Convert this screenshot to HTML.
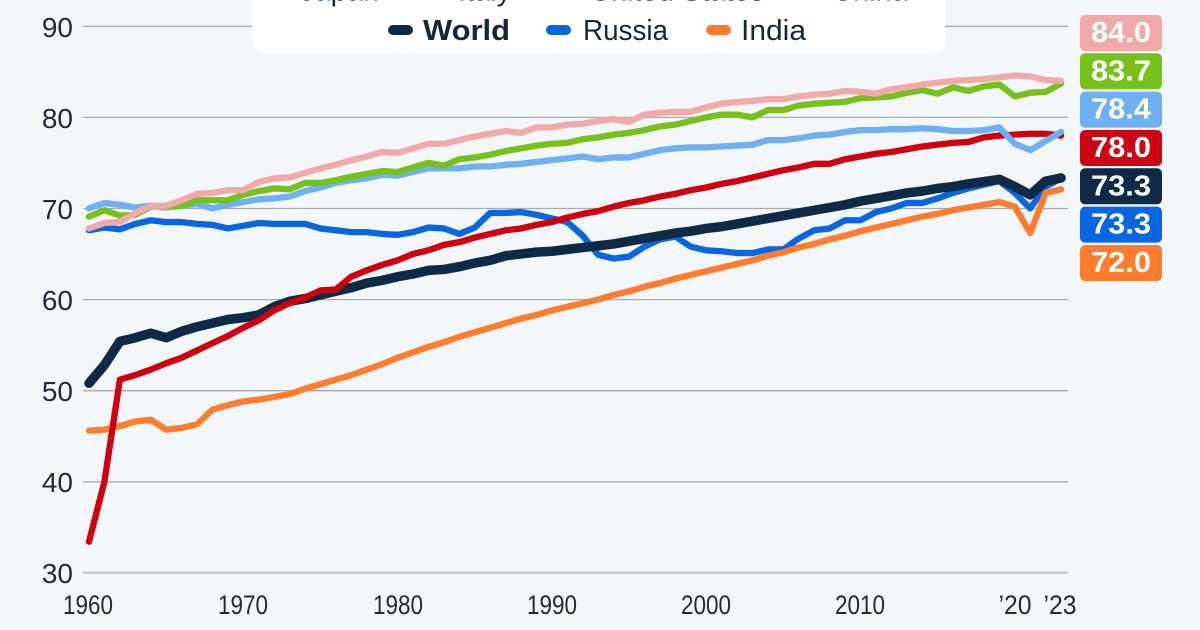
<!DOCTYPE html>
<html><head><meta charset="utf-8"><style>
html,body{margin:0;padding:0;background:#f4f7fa;}
svg{display:block;font-family:"Liberation Sans",sans-serif;}
</style></head><body>
<svg width="1200" height="630" viewBox="0 0 1200 630" xmlns="http://www.w3.org/2000/svg">
<rect x="0" y="0" width="1200" height="630" fill="#f4f7fa"/>
<g stroke="#a7acb2" stroke-width="1.3">
<line x1="83" y1="26.3" x2="1068" y2="26.3"/>
<line x1="83" y1="117.4" x2="1068" y2="117.4"/>
<line x1="83" y1="208.5" x2="1068" y2="208.5"/>
<line x1="83" y1="299.6" x2="1068" y2="299.6"/>
<line x1="83" y1="390.7" x2="1068" y2="390.7"/>
<line x1="83" y1="481.8" x2="1068" y2="481.8"/>
</g>
<line x1="83" y1="572.7" x2="1068" y2="572.7" stroke="#c9cdd2" stroke-width="2.6"/>
<g font-size="28" fill="#1d2b3a" text-anchor="end">
<text x="73" y="37">90</text>
<text x="73" y="128">80</text>
<text x="73" y="219">70</text>
<text x="73" y="310">60</text>
<text x="73" y="401">50</text>
<text x="73" y="492">40</text>
<text x="73" y="583">30</text>
</g>
<g font-size="27" fill="#1d2b3a" text-anchor="middle">
<text x="88" y="614" textLength="50" lengthAdjust="spacingAndGlyphs">1960</text>
<text x="243" y="614" textLength="50" lengthAdjust="spacingAndGlyphs">1970</text>
<text x="398" y="614" textLength="50" lengthAdjust="spacingAndGlyphs">1980</text>
<text x="552" y="614" textLength="50" lengthAdjust="spacingAndGlyphs">1990</text>
<text x="706" y="614" textLength="50" lengthAdjust="spacingAndGlyphs">2000</text>
<text x="860" y="614" textLength="50" lengthAdjust="spacingAndGlyphs">2010</text>
<text x="1015" y="614" textLength="33" lengthAdjust="spacingAndGlyphs">’20</text>
<text x="1060" y="614" textLength="33" lengthAdjust="spacingAndGlyphs">’23</text>
</g>
<g fill="none" stroke-linejoin="round" stroke-linecap="round" transform="matrix(15.43 0 0 -9.107 89 845.91)">
<polyline vector-effect="non-scaling-stroke" stroke="#0866e0" stroke-width="6.3" points="0,67.6 1,67.9 2,67.7 3,68.3 4,68.7 5,68.5 6,68.5 7,68.3 8,68.2 9,67.8 10,68.1 11,68.4 12,68.3 13,68.3 14,68.3 15,67.8 16,67.6 17,67.4 18,67.4 19,67.2 20,67.1 21,67.4 22,67.9 23,67.8 24,67.2 25,67.9 26,69.5 27,69.5 28,69.6 29,69.3 30,68.9 31,68.5 32,67.0 33,64.9 34,64.5 35,64.7 36,65.8 37,66.6 38,66.9 39,65.8 40,65.4 41,65.3 42,65.1 43,65.1 44,65.5 45,65.5 46,66.7 47,67.6 48,67.8 49,68.7 50,68.7 51,69.6 52,70.0 53,70.6 54,70.6 55,71.1 56,71.7 57,72.2 58,72.6 59,73.0 60,71.7 61,70.0 62,72.4 63,73.3"/>
<polyline vector-effect="non-scaling-stroke" stroke="#ff7b2d" stroke-width="6.3" points="0,45.6 1,45.7 2,46.1 3,46.6 4,46.8 5,45.7 6,45.9 7,46.3 8,47.9 9,48.4 10,48.8 11,49.0 12,49.3 13,49.6 14,50.2 15,50.7 16,51.2 17,51.7 18,52.3 19,52.9 20,53.6 21,54.2 22,54.8 23,55.3 24,55.9 25,56.4 26,56.9 27,57.4 28,57.9 29,58.3 30,58.8 31,59.2 32,59.6 33,60.0 34,60.5 35,60.9 36,61.4 37,61.8 38,62.3 39,62.7 40,63.1 41,63.5 42,63.9 43,64.3 44,64.8 45,65.2 46,65.7 47,66.1 48,66.6 49,67.0 50,67.5 51,67.9 52,68.3 53,68.7 54,69.1 55,69.4 56,69.8 57,70.1 58,70.4 59,70.7 60,70.2 61,67.3 62,71.7 63,72.1"/>
<polyline vector-effect="non-scaling-stroke" stroke="#0f2a47" stroke-width="9.5" points="0,50.8 1,52.8 2,55.4 3,55.8 4,56.3 5,55.8 6,56.5 7,57.0 8,57.4 9,57.8 10,58.0 11,58.3 12,59.2 13,59.8 14,60.1 15,60.5 16,60.9 17,61.3 18,61.8 19,62.1 20,62.5 21,62.8 22,63.2 23,63.3 24,63.6 25,64.0 26,64.3 27,64.8 28,65.0 29,65.2 30,65.3 31,65.5 32,65.7 33,65.9 34,66.1 35,66.4 36,66.7 37,67.0 38,67.3 39,67.5 40,67.8 41,68.0 42,68.3 43,68.6 44,68.9 45,69.2 46,69.5 47,69.8 48,70.1 49,70.4 50,70.8 51,71.1 52,71.4 53,71.7 54,71.9 55,72.2 56,72.4 57,72.7 58,72.95 59,73.2 60,72.4 61,71.5 62,73.0 63,73.35"/>
<polyline vector-effect="non-scaling-stroke" stroke="#d0000f" stroke-width="6.3" points="0,33.4 1,40.0 2,51.2 3,51.7 4,52.3 5,53.0 6,53.6 7,54.4 8,55.2 9,56.0 10,56.9 11,57.7 12,58.8 13,59.6 14,60.2 15,61.0 16,61.1 17,62.5 18,63.2 19,63.8 20,64.3 21,65.0 22,65.4 23,66.0 24,66.3 25,66.8 26,67.2 27,67.6 28,67.8 29,68.2 30,68.5 31,69.0 32,69.4 33,69.7 34,70.2 35,70.6 36,70.9 37,71.3 38,71.6 39,72.0 40,72.3 41,72.7 42,73.0 43,73.4 44,73.8 45,74.2 46,74.5 47,74.9 48,74.9 49,75.4 50,75.7 51,76.0 52,76.2 53,76.5 54,76.8 55,77.0 56,77.2 57,77.3 58,77.8 59,78.0 60,78.1 61,78.2 62,78.2 63,78.0"/>
<polyline vector-effect="non-scaling-stroke" stroke="#6eb0f2" stroke-width="6.3" points="0,70.0 1,70.6 2,70.4 3,70.1 4,70.3 5,70.1 6,70.3 7,70.5 8,70.0 9,70.4 10,70.7 11,71.0 12,71.1 13,71.3 14,71.9 15,72.3 16,72.8 17,73.1 18,73.3 19,73.7 20,73.6 21,74.0 22,74.4 23,74.4 24,74.4 25,74.6 26,74.6 27,74.8 28,74.9 29,75.1 30,75.3 31,75.5 32,75.7 33,75.4 34,75.6 35,75.6 36,76.0 37,76.4 38,76.6 39,76.7 40,76.7 41,76.8 42,76.9 43,77.0 44,77.5 45,77.5 46,77.7 47,78.0 48,78.1 49,78.4 50,78.6 51,78.6 52,78.7 53,78.7 54,78.8 55,78.7 56,78.5 57,78.5 58,78.6 59,78.9 60,77.1 61,76.4 62,77.4 63,78.4"/>
<polyline vector-effect="non-scaling-stroke" stroke="#78c01c" stroke-width="6.3" points="0,69.1 1,69.8 2,69.2 3,69.3 4,70.2 5,70.3 6,70.3 7,70.9 8,70.9 9,70.9 10,71.5 11,71.9 12,72.2 13,72.1 14,72.8 15,72.8 16,73.1 17,73.5 18,73.8 19,74.1 20,74.0 21,74.5 22,75.0 23,74.7 24,75.4 25,75.6 26,75.9 27,76.3 28,76.6 29,76.9 30,77.1 31,77.2 32,77.6 33,77.8 34,78.1 35,78.3 36,78.6 37,79.0 38,79.2 39,79.6 40,80.0 41,80.3 42,80.3 43,80.0 44,80.8 45,80.8 46,81.3 47,81.5 48,81.6 49,81.7 50,82.1 51,82.2 52,82.3 53,82.7 54,83.0 55,82.6 56,83.3 57,82.9 58,83.4 59,83.6 60,82.3 61,82.7 62,82.8 63,83.7"/>
<polyline vector-effect="non-scaling-stroke" stroke="#f3a9a9" stroke-width="6.3" points="0,67.8 1,68.4 2,68.5 3,69.5 4,70.3 5,70.3 6,70.9 7,71.6 8,71.7 9,72.0 10,72.0 11,72.9 12,73.3 13,73.4 14,73.9 15,74.4 16,74.8 17,75.3 18,75.7 19,76.2 20,76.1 21,76.6 22,77.1 23,77.1 24,77.5 25,77.9 26,78.2 27,78.5 28,78.3 29,78.9 30,78.9 31,79.2 32,79.3 33,79.6 34,79.8 35,79.5 36,80.3 37,80.5 38,80.6 39,80.6 40,81.1 41,81.5 42,81.7 43,81.8 44,82.0 45,82.0 46,82.3 47,82.5 48,82.6 49,82.9 50,82.8 51,82.6 52,83.1 53,83.3 54,83.6 55,83.8 56,84.0 57,84.1 58,84.2 59,84.4 60,84.6 61,84.5 62,84.1 63,84.0"/>
</g>
<rect x="252" y="-20" width="693" height="73" rx="12" fill="#ffffff"/>
<g font-size="29" fill="#13263d">
<text x="300" y="0.5">Japan</text>
<text x="458" y="0.5">Italy</text>
<text x="590" y="0.5">United States</text>
<text x="832" y="0.5">China</text>
</g>
<rect x="388" y="25" width="25" height="10" rx="5" fill="#0f2a47"/>
<text x="423" y="40" font-size="29" font-weight="bold" fill="#13263d" textLength="87" lengthAdjust="spacingAndGlyphs">World</text>
<rect x="546" y="25" width="25" height="10" rx="5" fill="#0866e0"/>
<text x="583" y="40" font-size="29" fill="#13263d" textLength="85" lengthAdjust="spacingAndGlyphs">Russia</text>
<rect x="706" y="25" width="25" height="10" rx="5" fill="#ff7b2d"/>
<text x="741" y="40" font-size="29" fill="#13263d" textLength="65" lengthAdjust="spacingAndGlyphs">India</text>
<g>
<rect x="1080" y="15" width="82" height="36" rx="5" fill="#f3a9a9"/>
<rect x="1080" y="53.3" width="82" height="36" rx="5" fill="#78c01c"/>
<rect x="1080" y="91.6" width="82" height="36" rx="5" fill="#6eb0f2"/>
<rect x="1080" y="130" width="82" height="36" rx="5" fill="#cc0612"/>
<rect x="1080" y="168.3" width="82" height="36" rx="5" fill="#0f2a47"/>
<rect x="1080" y="206.6" width="82" height="36" rx="5" fill="#0866e0"/>
<rect x="1080" y="245" width="82" height="36" rx="5" fill="#ff7b2d"/>
</g>
<g font-size="29" font-weight="bold" fill="#ffffff" text-anchor="middle">
<text x="1121" y="42" textLength="60" lengthAdjust="spacingAndGlyphs">84.0</text>
<text x="1121" y="80.3" textLength="60" lengthAdjust="spacingAndGlyphs">83.7</text>
<text x="1121" y="118.6" textLength="60" lengthAdjust="spacingAndGlyphs">78.4</text>
<text x="1121" y="157" textLength="60" lengthAdjust="spacingAndGlyphs">78.0</text>
<text x="1121" y="195.3" textLength="60" lengthAdjust="spacingAndGlyphs">73.3</text>
<text x="1121" y="233.6" textLength="60" lengthAdjust="spacingAndGlyphs">73.3</text>
<text x="1121" y="272" textLength="60" lengthAdjust="spacingAndGlyphs">72.0</text>
</g>
</svg>
</body></html>
